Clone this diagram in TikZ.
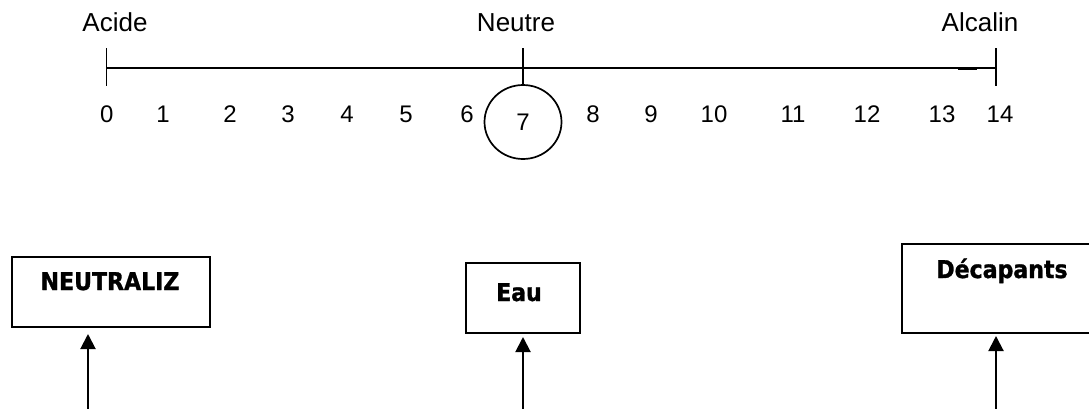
\documentclass[tikz,border=0pt]{standalone}
\usepackage{fontspec}
\setmainfont{Liberation Sans}
\newfontfamily\boxfont[FakeStretch=0.9, BoldFeatures={FakeBold=1.2}]{DejaVu Sans}
\usetikzlibrary{arrows.meta,shapes.geometric}
\begin{document}
\begin{tikzpicture}[x=1pt,y=-1pt,
  lbl/.style={font=\fontsize{26}{30}\selectfont, inner sep=0pt, anchor=base},
  num/.style={font=\fontsize{24}{28}\selectfont, inner sep=0pt, anchor=base},
  boxtxt/.style={font=\boxfont\bfseries\fontsize{24.5}{28}\selectfont, inner sep=0pt, anchor=base},
  axisline/.style={line width=1.7pt},
  frame/.style={draw, line width=2pt, inner sep=0pt},
  arr/.style={line width=2pt, -{Triangle[length=15pt,width=15pt]}}]
\useasboundingbox (0,0) rectangle (1089,408);
% labels
\node[lbl] (acide) at (115,31) {Acide};
\node[lbl] (neutre) at (516,31) {Neutre};
\node[lbl] (alcalin) at (980,31) {Alcalin};
% axis
\coordinate (a0) at (106.5,68);
\coordinate (a14) at (996,68);
\draw[axisline] (a0) -- (a14);
\draw[axisline] (106.5,48) -- (106.5,86);
\draw[axisline] (996,48) -- (996,86);
\draw[line width=3pt] (958,68) -- (977,68);
% circle with 7
\node[draw, ellipse, line width=1.7pt, minimum width=77pt, minimum height=74pt, inner sep=0pt,
      font=\fontsize{24}{28}\selectfont] (c7) at (523,122) {7};
\draw[axisline] (523,48) -- (c7.north);
% numbers
\node[num] (n0) at (106.7,122) {0};
\node[num] (n1) at (163,122) {1};
\node[num] (n2) at (230,122) {2};
\node[num] (n3) at (288,122) {3};
\node[num] (n4) at (347,122) {4};
\node[num] (n5) at (406,122) {5};
\node[num] (n6) at (467,122) {6};
\node[num] (n8) at (593,122) {8};
\node[num] (n9) at (651,122) {9};
\node[num] (n10) at (714,122) {10};
\node[num] (n11) at (793,122) {11};
\node[num] (n12) at (867,122) {12};
\node[num] (n13) at (942,122) {13};
\node[num] (n14) at (1000,122) {14};
% boxes
\node[frame, minimum width=198pt, minimum height=70pt] (bN) at (111,292) {};
\node[boxtxt] (tN) at (110,290) {NEUTRALIZ};
\node[frame, minimum width=114pt, minimum height=70pt] (bE) at (523,298) {};
\node[boxtxt] (tE) at (519,301) {Eau};
\node[frame, minimum width=200pt, minimum height=89pt] (bD) at (1002,288.5) {};
\node[boxtxt] (tD) at (1002,278) {Décapants};
% arrows
\coordinate (sN) at (88,410);
\coordinate (sE) at (523,410);
\coordinate (sD) at (996,410);
\draw[arr, shorten >=6pt] (sN) -- (sN |- bN.south);
\draw[arr, shorten >=3pt] (sE) -- (sE |- bE.south);
\draw[arr, shorten >=2pt] (sD) -- (sD |- bD.south);
\end{tikzpicture}
\end{document}
